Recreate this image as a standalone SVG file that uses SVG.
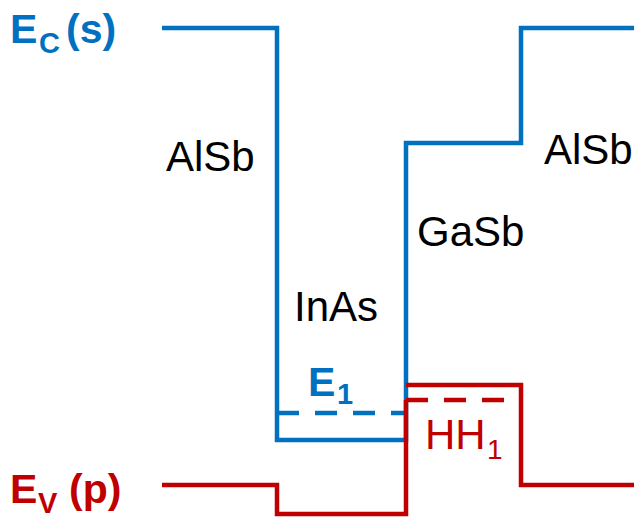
<svg xmlns="http://www.w3.org/2000/svg" width="634" height="520" viewBox="0 0 634 520">
<style>
.b{fill:none;stroke:#0070C0;stroke-width:4.5;stroke-linejoin:miter;stroke-linecap:butt}
.r{fill:none;stroke:#C00000;stroke-width:4.5;stroke-linejoin:miter;stroke-linecap:butt}
.d{stroke-dasharray:22 16}
.t{font-family:"Liberation Sans",Arial,sans-serif;font-size:42px;fill:#000}
.lb{font-family:"Liberation Sans",Arial,sans-serif;font-weight:bold;font-size:41px;fill:#0070C0}
.lr{font-family:"Liberation Sans",Arial,sans-serif;font-weight:bold;font-size:41px;fill:#C00000}
.hr{font-family:"Liberation Sans",Arial,sans-serif;font-size:42px;fill:#C00000}
</style>
<g id="connectors">
<path class="b" d="M162 28 H277 V440 H406 V143 H521 V28 H634"/>
<path class="b d" d="M277 413 H406"/>
<path class="r" d="M162 485 H277 V514 H406 V400"/>
<path class="r" d="M406 385 H521 V485 H634"/>
<path class="r d" d="M406 400 H504"/>
</g>
<g id="ec"><text class="lb" x="10" y="43">E<tspan x="39" y="53" font-size="29">C</tspan><tspan x="66" y="43">(s)</tspan></text></g>
<g id="ev"><text class="lr" x="10" y="503">E<tspan x="38" y="513" font-size="29">V</tspan><tspan x="69" y="503">(p)</tspan></text></g>
<g id="alsb1"><text class="t" x="166" y="171">AlSb</text></g>
<g id="inas"><text class="t" x="294" y="321">InAs</text></g>
<g id="gasb"><text class="t" x="417" y="246">GaSb</text></g>
<g id="alsb2"><text class="t" x="544" y="164">AlSb</text></g>
<g id="e1"><text class="lb" x="308" y="396">E<tspan x="337" y="404" font-size="29">1</tspan></text></g>
<g id="hh1"><text class="hr" x="425" y="449">HH<tspan x="487" y="459" font-size="28">1</tspan></text></g>
</svg>
